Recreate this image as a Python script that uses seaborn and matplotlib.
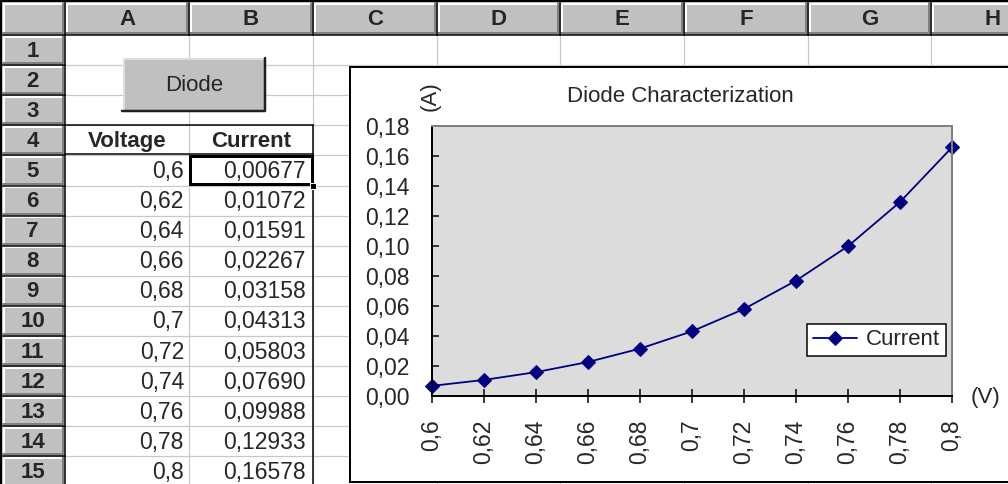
import matplotlib
matplotlib.use("Agg")
import matplotlib.pyplot as plt
import seaborn as sns
from matplotlib.patches import Rectangle

# ---------------- data ----------------
voltage = [0.6, 0.62, 0.64, 0.66, 0.68, 0.7, 0.72, 0.74, 0.76, 0.78, 0.8]
current = [0.00677, 0.01072, 0.01591, 0.02267, 0.03158, 0.04313,
           0.05803, 0.07690, 0.09988, 0.12933, 0.16578]
voltage_labels = ["0,6", "0,62", "0,64", "0,66", "0,68", "0,7",
                  "0,72", "0,74", "0,76", "0,78", "0,8"]
current_labels = ["0,00677", "0,01072", "0,01591", "0,02267", "0,03158", "0,04313",
                  "0,05803", "0,07690", "0,09988", "0,12933", "0,16578"]
y_ticks = [0.0, 0.02, 0.04, 0.06, 0.08, 0.10, 0.12, 0.14, 0.16, 0.18]
y_tick_labels = ["0,00", "0,02", "0,04", "0,06", "0,08", "0,10",
                 "0,12", "0,14", "0,16", "0,18"]
col_letters = ["A", "B", "C", "D", "E", "F", "G", "H"]
row_numbers = list(range(1, 16))
title = "Diode Characterization"

# ---------------- style ----------------
sns.set_style("white")
plt.rcParams["font.family"] = ["Liberation Sans", "DejaVu Sans"]

W, H = 1008, 484
fig = plt.figure(figsize=(W / 100, H / 100), dpi=100)

# spreadsheet background axes (pixel coordinates)
bg = fig.add_axes([0, 0, 1, 1])
bg.set_xlim(0, W)
bg.set_ylim(H, 0)
bg.axis("off")

PX = 0.72  # 1 pixel in points
HEAD_H = 35
ROW_W = 65
ROW_H = 30.1
col_edges = [65, 189, 313, 437, 560, 684, 808, 931, 1055]
row_edges = [HEAD_H + ROW_H * i for i in range(16)]
HDR = "#C0C0C0"

# cell gridlines
for x in col_edges[1:]:
    bg.plot([x, x], [HEAD_H, H], color="#C8C8C8", lw=1.2 * PX, zorder=1)
for y in row_edges[1:]:
    bg.plot([ROW_W, W], [y, y], color="#C8C8C8", lw=1.2 * PX, zorder=1)

def header_cell(x0, y0, x1, y1):
    bg.add_patch(Rectangle((x0, y0), x1 - x0, y1 - y0, facecolor=HDR,
                           edgecolor="none", zorder=2))
    bg.plot([x0 + 1.5, x1 - 1.5], [y0 + 1.5, y0 + 1.5], color="white", lw=2 * PX, zorder=3)
    bg.plot([x0 + 1.5, x0 + 1.5], [y0 + 1.5, y1 - 1.5], color="white", lw=2 * PX, zorder=3)
    bg.plot([x0 + 1, x1 - 2], [y1 - 2, y1 - 2], color="#808080", lw=2 * PX, zorder=3)
    bg.plot([x1 - 2, x1 - 2], [y0 + 1, y1 - 2], color="#808080", lw=2 * PX, zorder=3)
    bg.plot([x0, x1, x1], [y1, y1, y0], color="black", lw=1.5 * PX, zorder=4)

# corner + column headers
header_cell(2, 2, ROW_W, HEAD_H)
for i, letter in enumerate(col_letters):
    x0, x1 = col_edges[i], col_edges[i + 1]
    header_cell(x0, 2, x1, HEAD_H)
    bg.text((x0 + x1) / 2, HEAD_H / 2 + 2, letter, ha="center", va="center",
            fontsize=16, fontweight="bold", zorder=5)
# row headers
for i, rn in enumerate(row_numbers):
    y0, y1 = row_edges[i], row_edges[i + 1]
    header_cell(2, y0, ROW_W, y1)
    bg.text(ROW_W / 2, (y0 + y1) / 2 + 1, str(rn), ha="center", va="center",
            fontsize=16, fontweight="bold", zorder=5)
# outer frame
bg.plot([1, W], [1, 1], color="black", lw=2 * PX, zorder=6)
bg.plot([1, 1], [1, H], color="black", lw=2 * PX, zorder=6)

# Diode button
bx0, by0, bx1, by1 = 123, 58, 265, 111
bg.add_patch(Rectangle((bx0, by0), bx1 - bx0, by1 - by0, facecolor=HDR,
                       edgecolor="none", zorder=6))
bg.plot([bx0, bx1 - 1], [by0 + 0.5, by0 + 0.5], color="#E8E8E8", lw=1.5 * PX, zorder=7)
bg.plot([bx0 + 0.5, bx0 + 0.5], [by0, by1 - 1], color="#E8E8E8", lw=1.5 * PX, zorder=7)
bg.plot([bx0 - 1, bx1, bx1], [by1, by1, by0], color="#202020", lw=2.5 * PX, zorder=7)
bg.text((bx0 + bx1) / 2, (by0 + by1) / 2 + 1, "Diode", ha="center", va="center",
        fontsize=16, zorder=8)

# table headers
r4y0, r4y1 = row_edges[3], row_edges[4]
bg.text((col_edges[0] + col_edges[1]) / 2, (r4y0 + r4y1) / 2 + 1, "Voltage",
        ha="center", va="center", fontsize=16, fontweight="bold", zorder=5)
bg.text((col_edges[1] + col_edges[2]) / 2, (r4y0 + r4y1) / 2 + 1, "Current",
        ha="center", va="center", fontsize=16, fontweight="bold", zorder=5)
bg.plot([ROW_W, col_edges[2]], [r4y0, r4y0], color="black", lw=1.5 * PX, zorder=5)
bg.plot([ROW_W, col_edges[2]], [r4y1 - 1, r4y1 - 1], color="black", lw=1.5 * PX, zorder=5)
bg.plot([col_edges[2], col_edges[2]], [r4y0, H], color="black", lw=1.5 * PX, zorder=5)

# data cells
for i, (v, c) in enumerate(zip(voltage_labels, current_labels)):
    y0, y1 = row_edges[4 + i], row_edges[5 + i]
    ym = (y0 + y1) / 2 + 1
    bg.text(col_edges[1] - 5, ym, v, ha="right", va="center", fontsize=16.5, zorder=5)
    bg.text(col_edges[2] - 7, ym, c, ha="right", va="center", fontsize=16.5, zorder=5)

# selected cell B5
sy0, sy1 = row_edges[4], row_edges[5]
bg.add_patch(Rectangle((col_edges[1] + 1, sy0 + 1), col_edges[2] - col_edges[1] - 2,
                       sy1 - sy0 - 2, facecolor="none", edgecolor="black",
                       lw=3 * PX, zorder=6))
bg.add_patch(Rectangle((col_edges[2] - 3, sy1 - 3), 6, 6, facecolor="black",
                       edgecolor="white", lw=1 * PX, zorder=7))

# chart area box
bg.add_patch(Rectangle((350, 67), 700, 415, facecolor="white", edgecolor="black",
                       lw=2 * PX, zorder=10))

# ---------------- chart ----------------
px0, py0, px1, py1 = 432, 126, 952, 396
ax = fig.add_axes([px0 / W, 1 - py1 / H, (px1 - px0) / W, (py1 - py0) / H], zorder=20)
ax.set_facecolor("#DCDCDC")
sns.lineplot(x=voltage, y=current, ax=ax, color="#000080", marker="D",
             markersize=7.5, markeredgecolor="#000080", linewidth=1.3,
             label="Current")
for ln in ax.lines:
    ln.set_clip_on(False)
ax.set_xlim(0.6, 0.8)
ax.set_ylim(0, 0.18)
ax.set_xticks(voltage)
ax.set_xticklabels(voltage_labels, rotation=90, fontsize=16.5)
ax.set_yticks(y_ticks)
ax.set_yticklabels(y_tick_labels, fontsize=16.5)
ax.tick_params(axis="y", direction="in", length=5, width=1.5 * PX, pad=16,
               color="black", left=True)
ax.tick_params(axis="x", direction="inout", length=10, width=1.5 * PX, pad=12,
               color="black", bottom=True)
ax.grid(False)
for s in ["left", "bottom"]:
    ax.spines[s].set_color("black")
    ax.spines[s].set_linewidth(2 * PX)
for s in ["top", "right"]:
    ax.spines[s].set_color("#808080")
    ax.spines[s].set_linewidth(2 * PX)
    ax.spines[s].set_visible(True)

leg = ax.legend(loc="lower right", bbox_to_anchor=((946 - px0) / (px1 - px0),
                                                 (py1 - 356) / (py1 - py0)),
                borderaxespad=0, fontsize=16, frameon=True, fancybox=False,
                framealpha=1, facecolor="white", edgecolor="black",
                handlelength=2.0, handletextpad=0.4, borderpad=0.25)
leg.get_frame().set_linewidth(1.5 * PX)

fig.text(680 / W, 1 - 96 / H, title, ha="center", va="center", fontsize=16)
fig.text(430 / W, 1 - 96 / H, "(A)", ha="center", va="center", rotation=90, fontsize=16)
fig.text(985 / W, 1 - 398 / H, "(V)", ha="center", va="center", fontsize=16)

fig.savefig("out.png", dpi=100)
